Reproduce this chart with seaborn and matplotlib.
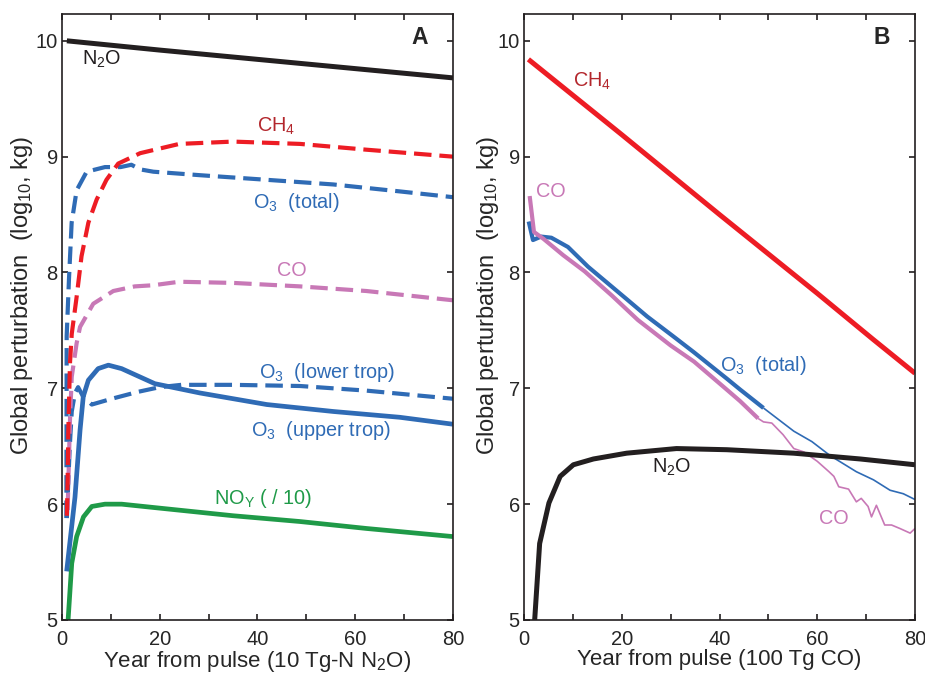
import numpy as np
import pandas as pd
import seaborn as sns
import matplotlib
matplotlib.use("Agg")
import matplotlib.pyplot as plt

# ---- panel A : 10 Tg-N N2O pulse ----
a_n2o_x = [1, 20, 40, 60, 80]
a_n2o_y = [10.0, 9.92, 9.84, 9.76, 9.68]

a_ch4_x = [1.0, 1.16, 1.3, 1.64, 2.0, 3.0, 4.0, 5.4, 7.1, 9.1, 11.5, 16, 24, 35, 48.7, 62.3, 80]
a_ch4_y = [5.9, 6.21, 6.64, 7.22, 7.47, 7.79, 8.14, 8.43, 8.63, 8.80, 8.94, 9.03, 9.11, 9.13, 9.11, 9.06, 9.0]

a_o3tot_x = [0.9, 0.96, 1.43, 1.98, 3.0, 5.05, 8.8, 12.0, 14.2, 16, 18.7, 28.2, 41.9, 55.5, 69.1, 80]
a_o3tot_y = [5.88, 7.45, 7.94, 8.43, 8.71, 8.87, 8.91, 8.91, 8.93, 8.89, 8.87, 8.84, 8.80, 8.76, 8.70, 8.65]

a_co_x = [1.16, 1.64, 2.0, 3.0, 3.7, 6.4, 10.5, 14.9, 18.7, 24, 35, 48.7, 62.3, 80]
a_co_y = [5.95, 6.73, 7.10, 7.39, 7.53, 7.73, 7.84, 7.88, 7.89, 7.92, 7.91, 7.88, 7.84, 7.76]

a_o3low_x = [1.0, 1.3, 1.6, 2.0, 2.66, 3.3, 4.3, 6.1, 10.2, 15.6, 20, 24.4, 35, 48.7, 62.3, 80]
a_o3low_y = [5.88, 6.2, 6.5, 6.8, 6.96, 7.01, 6.93, 6.86, 6.91, 6.97, 7.01, 7.03, 7.03, 7.02, 6.98, 6.91]

a_o3up_x = [0.96, 2.66, 3.7, 4.36, 5.4, 7.4, 9.5, 12.2, 19, 28.2, 41.9, 55.5, 69.1, 80]
a_o3up_y = [5.42, 6.06, 6.64, 6.93, 7.07, 7.17, 7.20, 7.17, 7.04, 6.96, 6.86, 6.80, 6.75, 6.69]

a_noy_x = [1.1, 2.0, 3.0, 4.4, 6.1, 8.8, 12.2, 19, 35, 48.7, 62.3, 80]
a_noy_y = [4.9, 5.49, 5.72, 5.89, 5.98, 6.0, 6.0, 5.97, 5.90, 5.85, 5.79, 5.72]

# ---- panel B : 100 Tg CO pulse ----
b_ch4_x = [0.9, 20, 40, 60, 71.5, 80]
b_ch4_y = [9.84, 9.19, 8.50, 7.82, 7.42, 7.13]

b_o3_x = [0.96, 1.84, 3.5, 5.6, 9.0, 13.1, 21, 25.2, 30.5, 34.8, 41.6, 44.2, 49.0]
b_o3_y = [8.44, 8.28, 8.31, 8.30, 8.22, 8.05, 7.77, 7.62, 7.45, 7.31, 7.08, 6.99, 6.83]
b_o3_thin_x = [49.0, 55.2, 58.9, 62.6, 68.0, 71.5, 74.9, 77.6, 80]
b_o3_thin_y = [6.83, 6.63, 6.54, 6.42, 6.28, 6.21, 6.12, 6.09, 6.04]

b_co_x = [1.16, 2.04, 4, 8, 12.4, 18, 23.3, 30, 34.8, 40.9, 44.2, 47.9]
b_co_y = [8.66, 8.35, 8.29, 8.15, 8.01, 7.80, 7.59, 7.37, 7.23, 7.01, 6.89, 6.74]
b_co_thin_x = [47.9, 49.0, 50.7, 53.0, 55.2, 57.3, 60.0, 62.4, 63.4, 64.4, 66.4, 68.0, 69.0,
               70.4, 71.1, 72.1, 73.8, 75.2, 76.9, 79.0, 80]
b_co_thin_y = [6.74, 6.71, 6.70, 6.60, 6.48, 6.45, 6.37, 6.28, 6.24, 6.15, 6.13, 6.02, 6.05,
               5.98, 5.89, 5.99, 5.82, 5.82, 5.79, 5.75, 5.79]

b_n2o_x = [2.1, 2.2, 3.2, 5.1, 7.4, 10.1, 14.2, 21, 31.2, 41.5, 55.2, 68.8, 80]
b_n2o_y = [4.9, 5.01, 5.66, 6.01, 6.24, 6.34, 6.39, 6.44, 6.48, 6.47, 6.44, 6.39, 6.34]

BLACK = "#231f20"
RED = "#ed1c24"
DARKRED = "#b3262c"
BLUE = "#2f6bb5"
PINK = "#c878b6"
GREEN = "#1f9a48"
DASH = (0, (4.2, 1.9))

sns.set_style("ticks")
plt.rcParams["font.family"] = ["Liberation Sans", "DejaVu Sans"]
plt.rcParams["mathtext.fontset"] = "custom"
plt.rcParams["mathtext.rm"] = "Liberation Sans"
plt.rcParams["mathtext.it"] = "Liberation Sans:italic"
plt.rcParams["axes.linewidth"] = 1.2


def line(ax, x, y, color, lw, ls="-"):
    sns.lineplot(x=x, y=y, ax=ax, color=color, lw=lw, linestyle=ls,
                 solid_capstyle="butt", dash_capstyle="butt")


fig, (axA, axB) = plt.subplots(1, 2, figsize=(9.25, 6.75))
fig.subplots_adjust(left=0.067, right=0.9892, bottom=0.0815, top=0.979, wspace=0.1816)

# panel A
line(axA, a_n2o_x, a_n2o_y, BLACK, 3.6)
line(axA, a_noy_x, a_noy_y, GREEN, 3.4)
line(axA, a_o3up_x, a_o3up_y, BLUE, 3.4)
line(axA, a_o3low_x, a_o3low_y, BLUE, 3.0, DASH)
line(axA, a_co_x, a_co_y, PINK, 3.0, DASH)
line(axA, a_o3tot_x, a_o3tot_y, BLUE, 3.0, DASH)
line(axA, a_ch4_x, a_ch4_y, RED, 3.0, DASH)

fs = 14.3
axA.text(4.1, 9.84, r"N$_2$O", color=BLACK, fontsize=fs, ha="left", va="center")
axA.text(43.8, 9.26, r"CH$_4$", color=DARKRED, fontsize=fs, ha="center", va="center")
axA.text(48, 8.6, r"O$_3$  (total)", color=BLUE, fontsize=fs, ha="center", va="center")
axA.text(47, 8.02, "CO", color=PINK, fontsize=fs, ha="center", va="center")
axA.text(54.2, 7.14, r"O$_3$  (lower trop)", color=BLUE, fontsize=fs, ha="center", va="center")
axA.text(53, 6.64, r"O$_3$  (upper trop)", color=BLUE, fontsize=fs, ha="center", va="center")
axA.text(41.1, 6.05, r"NO$_\mathrm{Y}$ ( / 10)", color=GREEN, fontsize=fs, ha="center", va="center")
axA.text(0.916, 0.962, "A", transform=axA.transAxes, fontsize=16.5, fontweight="bold",
         ha="center", va="center")
axA.set_xlabel(r"Year from pulse (10 Tg-N N$_2$O)")

# panel B
line(axB, b_ch4_x, b_ch4_y, RED, 3.6)
line(axB, b_o3_x, b_o3_y, BLUE, 3.0)
line(axB, b_o3_thin_x, b_o3_thin_y, BLUE, 1.2)
line(axB, b_co_x, b_co_y, PINK, 3.0)
line(axB, b_co_thin_x, b_co_thin_y, PINK, 1.2)
line(axB, b_n2o_x, b_n2o_y, BLACK, 3.6)

axB.text(13.9, 9.65, r"CH$_4$", color=DARKRED, fontsize=fs, ha="center", va="center")
axB.text(5.5, 8.70, "CO", color=PINK, fontsize=fs, ha="center", va="center")
axB.text(48.9, 7.2, r"O$_3$  (total)", color=BLUE, fontsize=fs, ha="center", va="center")
axB.text(30.3, 6.32, r"N$_2$O", color=BLACK, fontsize=fs, ha="center", va="center")
axB.text(63.4, 5.88, "CO", color=PINK, fontsize=fs, ha="center", va="center")
axB.text(0.916, 0.962, "B", transform=axB.transAxes, fontsize=16.5, fontweight="bold",
         ha="center", va="center")
axB.set_xlabel("Year from pulse (100 Tg CO)")

for ax, lx in ((axA, -0.07), (axB, -0.06)):
    ax.set_xlim(0, 80)
    ax.set_ylim(5, 10.23)
    ax.set_xticks([0, 20, 40, 60, 80])
    ax.set_xticks([10, 30, 50, 70], minor=True)
    ax.set_yticks([5, 6, 7, 8, 9, 10])
    ax.tick_params(which="both", direction="in", top=True, right=True,
                   length=4.5, width=1.2, labelsize=14.5, color=BLACK)
    ax.tick_params(axis="x", pad=7)
    ax.tick_params(axis="y", pad=3)
    ax.set_ylabel(r"Global perturbation  (log$_{10}$, kg)", fontsize=17)
    ax.yaxis.set_label_coords(lx, 0.536)
    ax.xaxis.label.set_size(16)
    ax.xaxis.labelpad = 0
    for s in ax.spines.values():
        s.set_color(BLACK)

fig.savefig("out.png", dpi=100)
